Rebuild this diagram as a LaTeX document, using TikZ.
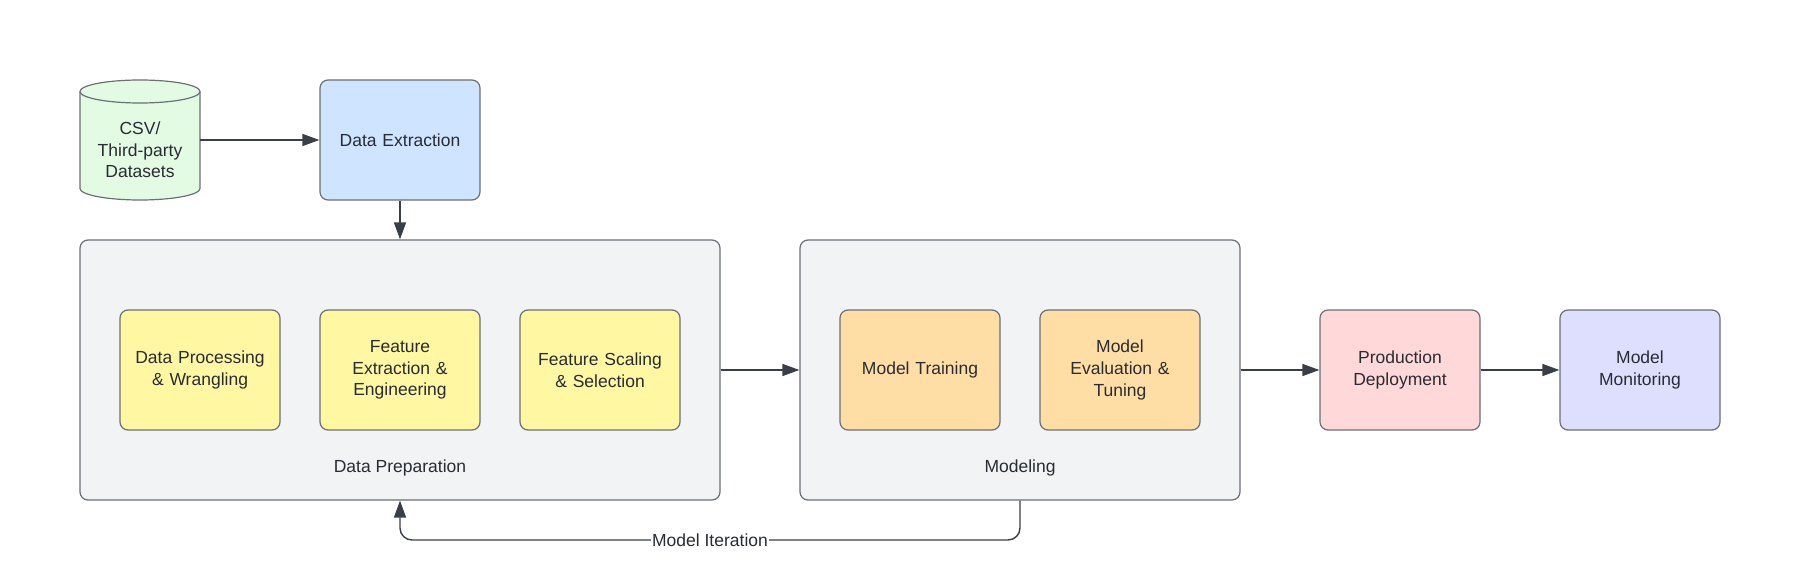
\documentclass[tikz,border=0pt]{standalone}
\usepackage{fontspec}
\setmainfont{Liberation Sans}
\usetikzlibrary{arrows.meta}
\definecolor{txt}{HTML}{282C33}
\definecolor{brd}{HTML}{6B6F76}
\definecolor{con}{HTML}{3A3F47}
\definecolor{cgreen}{HTML}{E3FAE3}
\definecolor{cblue}{HTML}{CFE4FF}
\definecolor{cgrey}{HTML}{F2F3F5}
\definecolor{cyellow}{HTML}{FFF7A1}
\definecolor{corange}{HTML}{FFDEA6}
\definecolor{cpink}{HTML}{FFD8DA}
\definecolor{clav}{HTML}{DEDFFF}
\tikzset{
  every node/.style={font=\fontsize{17.5}{21.7}\selectfont, text=txt},
  stepbox/.style={draw=brd, line width=1.2pt, rounded corners=8pt,
    minimum width=160pt, minimum height=120pt, text width=150pt, align=center, inner sep=0pt},
  group/.style={draw=brd, line width=1.2pt, rounded corners=8pt, fill=cgrey, inner sep=0pt},
  conn/.style={draw=con, line width=1.4pt, -{Triangle[length=17pt,width=12pt]}},
  plain/.style={inner sep=0pt, align=center}
}
\begin{document}
\begin{tikzpicture}[x=1pt,y=-1pt]
\useasboundingbox (0,0) rectangle (1808,588);
% containers
\node[group, minimum width=640pt, minimum height=260pt] (dataprep) at (400,370) {};
\node[group, minimum width=440pt, minimum height=260pt] (modeling) at (1020,370) {};
\node[plain] (dplabel) at (400,468) {Data Preparation};
\node[plain] (mlabel) at (1020,468) {Modeling};
% cylinder
\filldraw[fill=cgreen, draw=brd, line width=1.2pt]
  (80,91.5) -- (80,188.5) arc (180:0:60 and 11.5) -- (200,91.5) arc (0:-180:60 and 11.5) -- cycle;
\draw[brd, line width=1.2pt] (80,91.5) arc (180:0:60 and 11.5);
\node[plain, minimum width=120pt, minimum height=120pt] (csv) at (140,140) {};
\node[plain] (csvtext) at (140,150) {CSV/\\Third-party\\Datasets};
% boxes
\node[stepbox, fill=cblue] (extract) at (400,140) {Data Extraction};
\node[stepbox, fill=cyellow] (proc) at (200,370) {Data Processing\\\& Wrangling};
\node[stepbox, fill=cyellow] (feat) at (400,370) {Feature\\Extraction \&\\Engineering};
\node[stepbox, fill=cyellow] (scale) at (600,370) {Feature Scaling\\\& Selection};
\node[stepbox, fill=corange] (train) at (920,370) {Model Training};
\node[stepbox, fill=corange] (eval) at (1120,370) {Model\\Evaluation \&\\Tuning};
\node[stepbox, fill=cpink] (prod) at (1400,370) {Production\\Deployment};
\node[stepbox, fill=clav] (mon) at (1640,370) {Model\\Monitoring};
% connectors
\draw[conn] (csv.east) -- (extract.west);
\draw[conn] (extract.south) -- (dataprep.north);
\draw[conn] (dataprep.east) -- (modeling.west);
\draw[conn] (modeling.east) -- (prod.west);
\draw[conn] (prod.east) -- (mon.west);
\coordinate (fb) at (1020,540);
\draw[conn, rounded corners=12pt] (modeling.south) -- (fb) -| (dataprep.south);
\node[plain, fill=white, inner xsep=1pt, inner ysep=2pt] (iter) at (710,540) {Model Iteration};
\end{tikzpicture}
\end{document}
